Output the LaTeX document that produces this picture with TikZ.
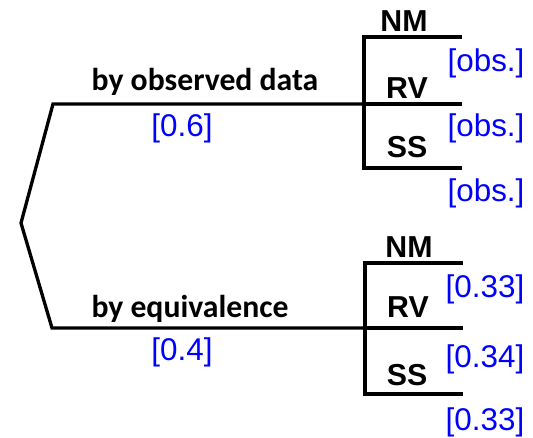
\documentclass[tikz,border=0pt]{standalone}
\usepackage{fontspec}
\newfontfamily\branchfont{Carlito}
\newfontfamily\arialfont{Liberation Sans}
\begin{document}
\begin{tikzpicture}[x=1pt,y=-1pt,
  edge/.style={line width=3.3pt,line join=miter,line cap=rect},
  branchlab/.style={anchor=base,inner sep=0pt,font=\branchfont\bfseries\fontsize{31.7}{31.7}\selectfont},
  leaflab/.style={anchor=base,inner sep=0pt,font=\arialfont\bfseries\fontsize{30.3}{30.3}\selectfont},
  prob/.style={anchor=base,inner sep=0pt,text=blue,font=\arialfont\fontsize{31.4}{31.4}\selectfont}]
\useasboundingbox (0,0) rectangle (533,438);

% tree skeleton
\coordinate (root) at (21,223);
\coordinate (a) at (53,104);
\coordinate (b) at (52,328);
\coordinate (aj) at (364,104);
\coordinate (bj) at (365,328);
\coordinate (anm) at (364,37);
\coordinate (ass) at (364,168);
\coordinate (bnm) at (365,263);
\coordinate (bss) at (365,394);
\coordinate (anmE) at (460,37);
\coordinate (arvE) at (460,104);
\coordinate (assE) at (460,168);
\coordinate (bnmE) at (461,263);
\coordinate (brvE) at (461,328);
\coordinate (bssE) at (461,394);

\draw[edge] (aj) -- (a) -- (root) -- (b) -- (bj);
\draw[edge] (anmE) -- (anm) -- (ass) -- (assE);
\draw[edge] (aj) -- (arvE);
\draw[edge] (bnmE) -- (bnm) -- (bss) -- (bssE);
\draw[edge] (bj) -- (brvE);

% first-level labels
\node[branchlab] (lobs) at (205,91) {by observed data};
\node[prob] (pobs) at (182,137) {[0.6]};
\node[branchlab] (lequ) at (190,318) {by equivalence};
\node[prob] (pequ) at (182,361) {[0.4]};

% leaves, upper group
\node[leaflab] (anmL) at (404,32) {NM};
\node[leaflab] (arvL) at (407,99) {RV};
\node[leaflab] (assL) at (407,158) {SS};
\node[prob] (anmP) at (486,72) {[obs.]};
\node[prob] (arvP) at (486,137) {[obs.]};
\node[prob] (assP) at (486,202) {[obs.]};

% leaves, lower group
\node[leaflab] (bnmL) at (409,258) {NM};
\node[leaflab] (brvL) at (408,318) {RV};
\node[leaflab] (bssL) at (407,385) {SS};
\node[prob] (bnmP) at (485,298) {[0.33]};
\node[prob] (brvP) at (485,367) {[0.34]};
\node[prob] (bssP) at (485,430) {[0.33]};
\end{tikzpicture}
\end{document}
